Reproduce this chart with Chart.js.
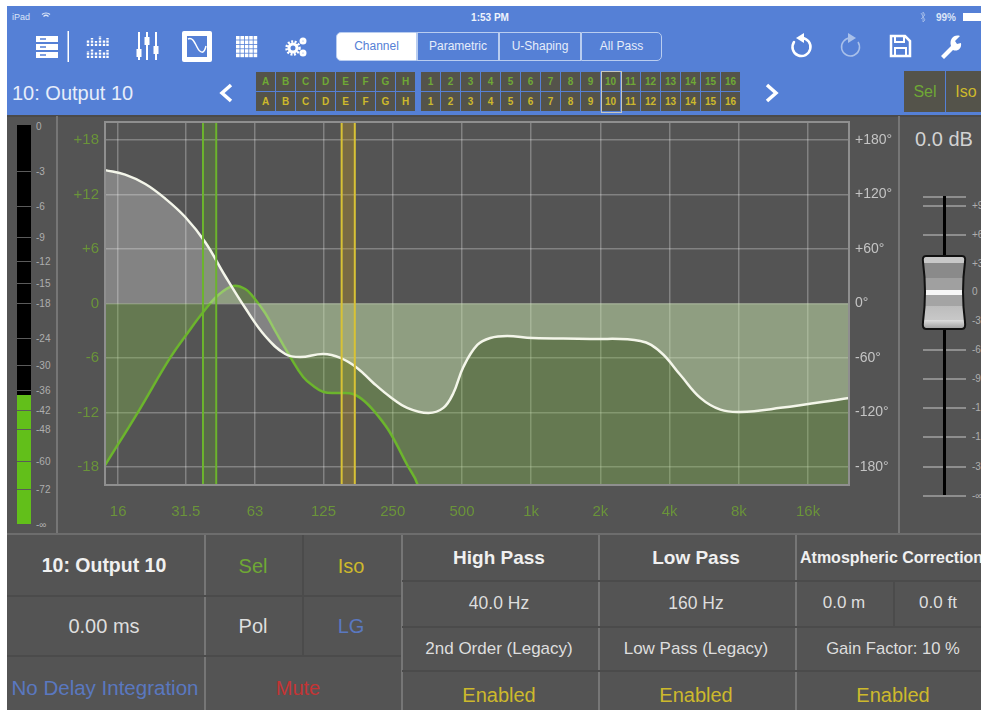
<!DOCTYPE html>
<html>
<head>
<meta charset="utf-8">
<title>10: Output 10</title>
<script src="https://cdn.jsdelivr.net/npm/chart.js@4"></script>
<style>
html, body { margin: 0; padding: 0; background: #fff; }
body { width: 981px; height: 710px; overflow: hidden; position: relative; font-family: "Liberation Sans", Arial, sans-serif; }
#header { position: absolute; left: 7px; top: 6px; width: 974px; height: 109px; background: #5580d6; }
#panel { position: absolute; left: 7px; top: 115px; width: 974px; height: 595px; background: #545454; }
#panel-top { position: absolute; left: 7px; top: 115px; width: 974px; height: 2px; background: #4a4a4a; }
#bottom-line { position: absolute; left: 7px; top: 533px; width: 974px; height: 2px; background: #6d6d6d; }
#chart-wrap { position: absolute; left: 57px; top: 116px; width: 841px; height: 418px; }
.t { position: absolute; white-space: nowrap; transform: translate(-50%, -50%); }
.l { position: absolute; white-space: nowrap; transform: translateY(-50%); }
.v { position: absolute; width: 1.5px; background: #767676; }
.h { position: absolute; height: 2px; background: #4b4b4b; }
.cell { position: absolute; background: #54534a; box-sizing: border-box; border-right: 1px solid #5580d6; border-bottom: 1px solid #5580d6; font-size: 10px; font-weight: bold; text-align: center; line-height: 20px; height: 20px; width: 20px; }
.seg { position: absolute; top: 32px; height: 29px; box-sizing: border-box; border: 1px solid #b9cdf0; font-size: 12px; line-height: 27px; text-align: center; color: #e6edfa; }
svg { position: absolute; }
</style>
</head>
<body>
<div id="header"></div>
<div id="panel"></div>
<div id="panel-top"></div>
<div id="bottom-line"></div>
<div id="chart-wrap"><canvas id="eq-chart"></canvas></div>
<div id="ui"></div>

<!-- toolbar icons -->
<svg style="left:0;top:0" width="981" height="115" fill="none" stroke="#fff">
  <g fill="#fff" stroke="none">
    <rect x="36" y="36" width="22" height="6"/><rect x="36" y="44" width="22" height="6"/><rect x="36" y="52" width="22" height="6"/>
    <rect x="67.5" y="31" width="1.5" height="31"/>
  </g>
  <g stroke="#5580d6" stroke-width="1.5"><path d="M40 39H46M40 47H46M40 55H46"/></g>
  <g stroke-width="2.4" stroke-dasharray="2.2 1">
    <path d="M88 46V40M92 46V38M96 46V41M100 46V36M104 46V40M107.500 46V38"/>
    <path d="M88 58V51M92 58V49M96 58V52M100 58V50M104 58V52M107.500 58V50"/>
  </g>
  <path d="M139 32V60M147 32V60M156 32V60" stroke-width="2"/>
  <g fill="#fff" stroke="none"><rect x="136.500" y="49" width="5" height="8"/><rect x="144.500" y="37" width="5" height="8"/><rect x="153.500" y="46" width="5" height="8"/></g>
  <rect x="182" y="31" width="30" height="31" rx="2" fill="#fff" stroke="none"/>
  <rect x="187" y="36" width="20" height="21" fill="#5580d6" stroke="none"/>
  <path d="M188 39C192 37 194 41 197 47C200 53 204 55 206 46" stroke="#fff" stroke-width="1.500"/>
  <g fill="#fff" stroke="none" id="dots"></g>
  <g stroke-width="3"><circle cx="293" cy="48" r="4"/><circle cx="303" cy="41" r="2"/><circle cx="303" cy="53" r="2"/></g>
  <g stroke-width="2.500" stroke-dasharray="2 1.500"><circle cx="293" cy="48" r="6.500"/></g>
  <g stroke-width="2.500" stroke-linecap="round"><path d="M794 42A9 9 0 1 0 802 38"/></g>
  <path d="M804 33L796 38L804 43Z" fill="#fff" stroke="none"/>
  <g stroke="#a9c0ea" stroke-width="1.500"><path d="M858 42A9 9 0 1 1 850 38"/></g>
  <path d="M848 33L856 38L848 43Z" fill="#a9c0ea" stroke="none"/>
  <path d="M891 36H905L910 41V56H891Z" stroke-width="2.500"/><path d="M895 36V42H904V36M895 56V48H906V56" stroke-width="2"/>
  <path d="M941 56L951 46C949 39 954 34 960 36L955 41L957 44L961 43C962 49 957 52 953 50L944 59Z" fill="#fff" stroke="none"/>
  <path d="M231 85L222 93L231 101" stroke-width="3.500"/>
  <path d="M767 85L776 93L767 101" stroke-width="3.500"/>
  <g stroke="#dbe5f7"><path d="M42 14.500C44 12.500 48 12.500 50 14.500M43.500 16.500C45 15 47 15 48.500 16.500" stroke-width="1.200"/></g>
  <path d="M921 13L925 20L923 22V12L925 15L921 19" stroke="#a9c0ea" stroke-width=".8"/>
  <rect x="963" y="13" width="18" height="8" fill="#fff" stroke="none"/>
</svg>

<script>
// Frequency axis (Hz)
const freqTicks = [16, 31.5, 63, 125, 250, 500, 1000, 2000, 4000, 8000, 16000];
const freqLabels = ['16', '31.5', '63', '125', '250', '500', '1k', '2k', '4k', '8k', '16k'];
const freqMin = 14.02;
const freqMax = 24100;

// Level and phase axes
const gainTicks = [18, 12, 6, 0, -6, -12, -18];
const gainLabels = ['+18', '+12', '+6', '0', '-6', '-12', '-18'];
const phaseTicks = [180, 120, 60, 0, -60, -120, -180];
const phaseLabels = ['+180°', '+120°', '+60°', '0°', '-60°', '-120°', '-180°'];

// White curve, read in the -20..+20 frame of the level axis
const whiteFreq = [14.05, 17.16, 21, 25.6, 31.3, 38.2, 46.7, 57.1, 69.7, 85.2, 99, 125, 148, 175, 206, 244, 289, 357, 415, 459, 507, 583, 664, 787, 1012, 1810, 2984, 3648, 4456, 5440, 6650, 8125, 12130, 24100];
const whiteGain = [14.7, 14.2, 13.17, 11.57, 9.53, 6.78, 3.03, -0.5, -3.58, -5.56, -5.9, -5.56, -6.0, -7.1, -8.76, -10.3, -11.5, -12.07, -11.5, -9.86, -7.0, -4.57, -3.8, -3.58, -3.8, -3.9, -4.13, -5.34, -7.88, -10.4, -11.7, -11.96, -11.5, -10.4];

// Green curve, runs on below the bottom of the plot
const greenFreq = [14.05, 19.4, 26.9, 32.3, 37.5, 43.6, 50.6, 57.1, 61.9, 69.7, 77.1, 89.7, 102, 113, 125, 145, 168, 190, 216, 244, 289, 320, 400, 1000, 24100];
const greenGain = [-17.8, -12.07, -6.0, -3.14, -0.94, 0.94, 1.93, 1.6, 0.72, -1.05, -3.03, -5.9, -8.1, -9.09, -9.75, -9.86, -9.97, -10.85, -12.4, -14.27, -17.8, -19.9, -30, -70, -200];

// Filter corner bands (Hz)
const highPassBand = [37.4, 42.7];
const lowPassBand = [149.9, 171];

function toPoints(xs, ys) {
    return xs.map((x, i) => ({ x: x, y: ys[i] }));
}

function bandLine(freq, color) {
    return {
        data: toPoints([freq, freq], [-20, 20]),
        borderColor: color,
        borderWidth: 2,
        pointRadius: 0,
        tension: 0,
        fill: false,
        order: 0
    };
}

function bandFill(band, color) {
    return {
        data: toPoints(band, [20, 20]),
        borderWidth: 0,
        pointRadius: 0,
        tension: 0,
        fill: { value: -20 },
        backgroundColor: color,
        order: 3
    };
}

// Axis labels sit at fixed widths; drop the room Chart.js keeps for half a label
function noLabelPadding(axis) {
    axis.paddingTop = 0;
    axis.paddingBottom = 0;
}

const frameBox = {
    id: 'frameBox',
    afterDraw(chart) {
        const a = chart.chartArea;
        const ctx = chart.ctx;
        ctx.save();
        ctx.strokeStyle = '#8f8f8f';
        ctx.lineWidth = 2;
        ctx.strokeRect(a.left, a.top, a.width, a.height);
        ctx.restore();
    }
};

new Chart(document.getElementById('eq-chart'), {
    type: 'line',
    plugins: [frameBox],
    data: {
        datasets: [
            {
                data: toPoints(whiteFreq, whiteGain),
                borderColor: '#f4f6ea',
                borderWidth: 2.5,
                pointRadius: 0,
                tension: 0.4,
                fill: { value: 0 },
                backgroundColor: 'rgba(255,255,255,0.28)',
                order: 1
            },
            {
                data: toPoints(greenFreq, greenGain),
                borderColor: '#6cb52d',
                borderWidth: 2.5,
                pointRadius: 0,
                tension: 0.4,
                fill: { value: 0 },
                backgroundColor: 'rgba(135,192,78,0.35)',
                order: 2
            },
            bandLine(highPassBand[0], '#6cb52d'),
            bandLine(highPassBand[1], '#6cb52d'),
            bandLine(lowPassBand[0], '#d8c235'),
            bandLine(lowPassBand[1], '#d8c235'),
            bandFill(highPassBand, 'rgba(110,190,40,0.2)'),
            bandFill(lowPassBand, 'rgba(205,160,30,0.3)')
        ]
    },
    options: {
        responsive: true,
        maintainAspectRatio: false,
        animation: false,
        layout: { padding: { top: 6 } },
        plugins: { legend: { display: false }, tooltip: { enabled: false } },
        scales: {
            x: {
                type: 'logarithmic',
                min: freqMin,
                max: freqMax,
                afterBuildTicks(axis) { axis.ticks = freqTicks.map(v => ({ value: v })); },
                afterFit(axis) { axis.height = 49; },
                grid: { color: 'rgba(255,255,255,0.27)', lineWidth: 1.5, drawTicks: false },
                border: { display: false },
                ticks: {
                    autoSkip: false,
                    maxRotation: 0,
                    padding: 18,
                    color: '#6a943a',
                    font: { family: 'Liberation Sans', size: 15 },
                    callback: v => freqLabels[freqTicks.indexOf(v)]
                }
            },
            y: {
                min: -20,
                max: 20,
                afterBuildTicks(axis) { axis.ticks = gainTicks.map(v => ({ value: v })); },
                afterFit(axis) { axis.width = 48; noLabelPadding(axis); },
                grid: { color: 'rgba(255,255,255,0.27)', lineWidth: 1.5, drawTicks: false },
                border: { display: false },
                ticks: {
                    autoSkip: false,
                    padding: 6,
                    color: '#6a943a',
                    font: { family: 'Liberation Sans', size: 15 },
                    callback: v => gainLabels[gainTicks.indexOf(v)]
                }
            },
            y2: {
                position: 'right',
                min: -200,
                max: 200,
                afterBuildTicks(axis) { axis.ticks = phaseTicks.map(v => ({ value: v })); },
                afterFit(axis) { axis.width = 49; noLabelPadding(axis); },
                grid: { display: false, drawTicks: false },
                border: { display: false },
                ticks: {
                    autoSkip: false,
                    padding: 6,
                    color: '#c4c4c4',
                    font: { family: 'Liberation Sans', size: 14 },
                    callback: v => phaseLabels[phaseTicks.indexOf(v)]
                }
            }
        }
    }
});

// Everything around the plot is plain page furniture
const ui = document.getElementById('ui');

function add(html) {
    ui.insertAdjacentHTML('beforeend', html);
}

function text(str, x, y, size, color, bold) {
    add(`<div class="t" style="left:${x}px;top:${y}px;font-size:${size}px;color:${color};${bold ? 'font-weight:bold;' : ''}">${str}</div>`);
}

function leftText(str, x, y, size, color, bold) {
    add(`<div class="l" style="left:${x}px;top:${y}px;font-size:${size}px;color:${color};${bold ? 'font-weight:bold;' : ''}">${str}</div>`);
}

function box(x, y, w, h, color, extra) {
    add(`<div style="position:absolute;left:${x}px;top:${y}px;width:${w}px;height:${h}px;background:${color};${extra || ''}"></div>`);
}

const GREEN = '#6fa835';
const YELLOW = '#cdb92c';
const BLUE = '#5a78c0';
const LIGHT = '#dedede';

// status bar
leftText('iPad', 12, 17, 9, '#dbe5f7');
text('1:53 PM', 490, 17, 10, '#eef3fc', true);
leftText('99%', 936, 17, 10, '#dbe5f7', true);

// segmented control
[['Channel', 336, 81], ['Parametric', 417, 82], ['U-Shaping', 499, 82], ['All Pass', 581, 81]].forEach((s, i) => {
    const on = i === 0;
    const radius = on ? 'border-radius:5px 0 0 5px;' : i === 3 ? 'border-radius:0 5px 5px 0;' : '';
    add(`<div class="seg" style="left:${s[1]}px;width:${s[2]}px;${radius}${on ? 'background:#fff;color:#5580d6;' : ''}">${s[0]}</div>`);
});

// dot grid icon
const dots = document.getElementById('dots');
for (let r = 0; r < 5; r++) {
    for (let c = 0; c < 5; c++) {
        dots.insertAdjacentHTML('beforeend', `<rect x="${236 + c * 4.4}" y="${36 + r * 4.4}" width="3.6" height="3.6"/>`);
    }
}

// channel name and selector
leftText('10: Output 10', 12, 93, 20, '#e6edfa');
const letters = ['A', 'B', 'C', 'D', 'E', 'F', 'G', 'H'];
letters.forEach((c, i) => {
    add(`<div class="cell" style="left:${256 + i * 20}px;top:72px;color:${GREEN}">${c}</div>`);
    add(`<div class="cell" style="left:${256 + i * 20}px;top:92px;color:${YELLOW}">${c}</div>`);
});
for (let i = 0; i < 16; i++) {
    add(`<div class="cell" style="left:${421 + i * 20}px;top:72px;color:${GREEN}">${i + 1}</div>`);
    add(`<div class="cell" style="left:${421 + i * 20}px;top:92px;color:${YELLOW}">${i + 1}</div>`);
}
box(601, 71, 19, 40, 'transparent', 'border:1.5px solid #c6c6c0;');
box(904, 71, 77, 41, '#54534a');
box(945, 71, 1, 41, '#5580d6');
text('Sel', 925, 92, 16, GREEN);
text('Iso', 966, 92, 16, YELLOW);

// level meter
const meterMarks = [['0', 126], ['-3', 171], ['-6', 206], ['-9', 237], ['-12', 261], ['-15', 283], ['-18', 303], ['-24', 338], ['-30', 365], ['-36', 390], ['-42', 410], ['-48', 429], ['-60', 461], ['-72', 489], ['-∞', 524]];
box(17, 125, 14, 270, '#000');
box(17, 395, 14, 129, '#62bf1a');
meterMarks.forEach(m => {
    if (m[1] > 130 && m[1] < 520) box(17, m[1], 14, 1, '#5a5a5a');
    leftText(m[0], 36, m[1], 10, '#aeaeae');
});
box(56, 116, 1.5, 417, '#767676');

// fader
box(898, 116, 1.5, 417, '#767676');
text('0.0 dB', 944, 139, 20, '#d2d2d2');
[196, 205, 234, 349, 378, 407, 436, 466, 495].forEach(y => {
    box(923, y, 43, 1.5, '#8e8e8e');
});
box(942.5, 196, 3, 299, '#000');
[['+9', 205], ['+6', 234], ['+3', 263], ['0', 291], ['-3', 320], ['-6', 349], ['-9', 378], ['-12', 407], ['-15', 436], ['-30', 466], ['-∞', 495]].forEach(m => {
    leftText(m[0], 972, m[1], 10, '#aeaeae');
});

// bottom table
add('<div class="v" style="left:204px;top:535px;height:175px"></div>');
add('<div class="v" style="left:401px;top:535px;height:175px"></div>');
add('<div class="v" style="left:598px;top:535px;height:175px"></div>');
add('<div class="v" style="left:795px;top:535px;height:175px"></div>');
add('<div class="h" style="left:7px;top:595px;width:394px"></div>');
add('<div class="h" style="left:7px;top:655px;width:394px"></div>');
add('<div class="h" style="left:402px;top:580px;width:579px"></div>');
add('<div class="h" style="left:402px;top:626px;width:579px"></div>');
add('<div class="h" style="left:402px;top:670px;width:579px"></div>');
box(302, 535, 1.5, 120, '#4b4b4b');
box(893, 581, 1.5, 45, '#4b4b4b');

text('10: Output 10', 104, 565, 19.5, '#f0f0f0', true);
text('0.00 ms', 104, 626, 20, LIGHT);
text('No Delay Integration', 105, 688, 20.5, BLUE);
text('Sel', 253, 566, 20, GREEN);
text('Iso', 351, 566, 20, YELLOW);
text('Pol', 253, 626, 20, LIGHT);
text('LG', 351, 626, 20, BLUE);
text('Mute', 298, 688, 20, '#c43434');

text('High Pass', 499, 558, 19, '#f0f0f0', true);
text('40.0 Hz', 499, 603, 17.5, LIGHT);
text('2nd Order (Legacy)', 499, 649, 17, LIGHT);
text('Enabled', 499, 695, 20, YELLOW);

text('Low Pass', 696, 558, 19, '#f0f0f0', true);
text('160 Hz', 696, 603, 17.5, LIGHT);
text('Low Pass (Legacy)', 696, 649, 17, LIGHT);
text('Enabled', 696, 695, 20, YELLOW);

leftText('Atmospheric Correction', 800, 558, 16, '#f0f0f0', true);
text('0.0 m', 844, 603, 17, LIGHT);
text('0.0 ft', 938, 603, 17, LIGHT);
text('Gain Factor: 10 %', 893, 649, 16.6, LIGHT);
text('Enabled', 893, 695, 20, YELLOW);
</script>

<!-- fader knob -->
<svg style="left:915px;top:250px" width="60" height="86" viewBox="915 250 60 86">
  <defs>
    <linearGradient id="knob" x1="0" y1="0" x2="0" y2="1">
      <stop offset="0" stop-color="#c8c8c8"/><stop offset=".1" stop-color="#c8c8c8"/>
      <stop offset=".1" stop-color="#8a8a8a"/><stop offset=".3" stop-color="#8a8a8a"/>
      <stop offset=".3" stop-color="#a0a0a0"/><stop offset=".47" stop-color="#a0a0a0"/>
      <stop offset=".47" stop-color="#f6f6f6"/><stop offset=".53" stop-color="#f6f6f6"/>
      <stop offset=".53" stop-color="#a4a4a4"/><stop offset=".68" stop-color="#a4a4a4"/>
      <stop offset=".68" stop-color="#bcbcbc"/><stop offset=".88" stop-color="#c8c8c8"/>
      <stop offset=".88" stop-color="#dcdcdc"/><stop offset="1" stop-color="#9c9c9c"/>
    </linearGradient>
  </defs>
  <path d="M926 256H962Q966 256 965 262Q961 292 965 322Q966 329 962 329H926Q922 329 923 322Q927 292 923 262Q922 256 926 256Z" fill="url(#knob)" stroke="#111" stroke-width="2"/>
</svg>
</body>
</html>
